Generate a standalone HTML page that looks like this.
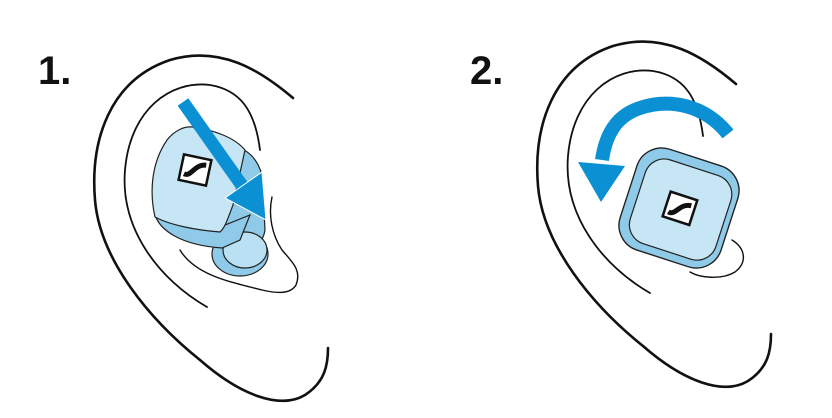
<!DOCTYPE html>
<html><head><style>
html,body{margin:0;padding:0;background:#fff;width:832px;height:418px;overflow:hidden}
</style></head><body>
<svg width="832" height="418" viewBox="0 0 832 418" xmlns="http://www.w3.org/2000/svg">
<text x="38" y="84" font-family="Liberation Sans, sans-serif" font-weight="bold" font-size="40" fill="#111">1.</text>
<text x="470" y="84" font-family="Liberation Sans, sans-serif" font-weight="bold" font-size="40" fill="#111">2.</text>

<g fill="none" stroke="#111" stroke-linecap="round">
 <path d="M293,98 C260,70 220,45 170,60 C110,80 90,140 95,200 C100,260 150,320 200,360 C240,395 280,410 305,395 C325,382 328,365 328,348" stroke-width="2.6"/>
 <path d="M207,307 C160,280 120,230 125,170 C130,110 170,80 210,85 C240,90 255,110 260,150" stroke-width="1.8"/>
 <path d="M272,197 C268,215 272,235 282,250 C292,262 302,270 296,285 C290,295 275,293 262,290 C230,282 195,275 180,250" stroke-width="1.4"/>
 <g transform="translate(443,-14)">
 <path d="M293,98 C260,70 220,45 170,60 C110,80 90,140 95,200 C100,260 150,320 200,360 C240,395 280,410 305,395 C325,382 328,365 328,348" stroke-width="2.6"/>
 <path d="M207,307 C160,280 120,230 125,170 C130,110 170,80 210,85 C240,90 255,110 260,150" stroke-width="1.8"/>
 </g>
 <path d="M732,240 C745,248 748,262 735,272 C722,280 700,278 690,272" stroke-width="1.4"/>
</g>

<g stroke="#222" stroke-width="1.2">
 <path d="M210,150 C235,140 255,150 262,175 L265,230 C262,250 240,260 220,252 Z" fill="#8fcbe9"/>
 <ellipse cx="240" cy="254" rx="28" ry="22" fill="#8fcbe9"/>
 <ellipse cx="245" cy="250" rx="22" ry="18" fill="#b9e0f3"/>
 <path d="M155,215 C160,230 180,245 222,248 L240,240 L250,215 L225,225 Z" fill="#8fcbe9"/>
 <path d="M167,140 C175,130 185,126 192,127 C215,130 235,138 245,150 L233,205 C228,218 225,228 220,232 C195,230 170,225 155,217 C150,195 150,165 167,140 Z" fill="#c6e6f5"/>
</g>
<g transform="translate(195,170) rotate(12)">
 <rect x="-14" y="-13" width="28" height="26" fill="#fff" stroke="#111" stroke-width="2.5"/>
 <path d="M-10,6 C-2,8 -2,-6 10,-7" stroke="#111" stroke-width="5" fill="none"/>
</g>
<path d="M183,102 L243,187" stroke="#0b91d3" stroke-width="13"/>
<polygon points="225,198 262,172 266,220" fill="#0b91d3" stroke="#fff" stroke-width="1"/>

<g transform="translate(679,208) rotate(18)">
 <rect x="-53" y="-53" width="106" height="106" rx="26" fill="#8fcbe9" stroke="#222" stroke-width="1.4"/>
 <rect x="-43" y="-43" width="90" height="88" rx="20" fill="#c6e6f5" stroke="#222" stroke-width="1.2"/>
 <rect x="-13" y="-13" width="28" height="26" fill="#fff" stroke="#111" stroke-width="2.5"/>
 <path d="M-9,7 C-1,9 -1,-5 11,-6" stroke="#111" stroke-width="5" fill="none"/>
</g>
<path d="M728,134 C705,105 670,98 640,108 C618,115 606,132 602,160" stroke="#0b91d3" stroke-width="14" fill="none"/>
<polygon points="578,162 625,166 601,202" fill="#0b91d3"/>
</svg>
</body></html>
